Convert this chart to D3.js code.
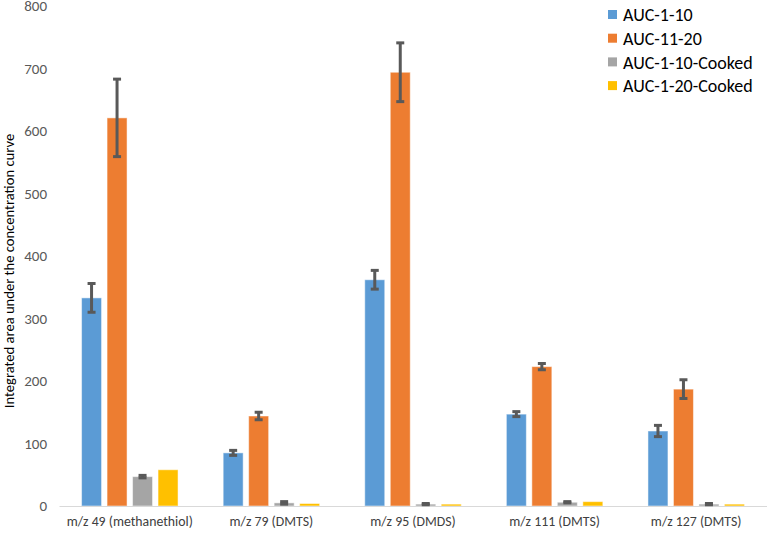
<!DOCTYPE html>
<html><head><meta charset="utf-8">
<script src="https://cdn.jsdelivr.net/npm/d3@7"></script>
<style>body{margin:0;background:#fff;} svg{display:block;font-family:Carlito,Calibri,Lato,"Liberation Sans",sans-serif;}</style>
</head><body>
<svg id="c" width="767" height="533"></svg>
<script>
const categories = ["m/z 49 (methanethiol)","m/z 79 (DMTS)","m/z 95 (DMDS)","m/z 111 (DMTS)","m/z 127 (DMTS)"];
const seriesNames = ["AUC-1-10","AUC-11-20","AUC-1-10-Cooked","AUC-1-20-Cooked"];
const auc1_10 = [333, 85, 362, 147, 120];
const auc11_20 = [621, 144, 694, 223, 187];
const auc1_10c = [47, 5, 3, 6, 3];
const auc1_20c = [58, 4, 3, 7, 3];
const err1_10 = [23, 4, 15, 4, 9];
const err11_20 = [62, 6, 47, 5, 15];
const err1_10c = [2, 2, 1, 1, 1];
const yTicks = [0,100,200,300,400,500,600,700,800];
const colors = ["#5B9BD5","#ED7D31","#A5A5A5","#FFC000"];

const seriesVals = [auc1_10, auc11_20, auc1_10c, auc1_20c];
const seriesErr = [err1_10, err11_20, err1_10c, null];

const svg = d3.select("#c");
const mLeft = 59, mRight = 767, mTop = 6, mBottom = 506;
const x = d3.scaleBand().domain(categories).range([mLeft, mRight]).paddingInner(0).paddingOuter(0);
const x1 = d3.scaleBand().domain(seriesNames).range([0, x.bandwidth()]).paddingInner(0.216).paddingOuter(0.885);
const y = d3.scaleLinear().domain([0, 800]).range([mBottom, mTop]);

const FF = "Carlito,Calibri,Lato,sans-serif";

// y tick labels
const yAxis = d3.axisLeft(y).tickValues(yTicks).tickSize(0).tickPadding(0);
const ga = svg.append("g").attr("transform", `translate(${mLeft-12},0)`).call(yAxis);
ga.select(".domain").remove();
ga.selectAll("text").attr("fill","#595959").style("font-size","15px").style("font-family",FF);

// bars
categories.forEach((cat, ci) => {
  seriesNames.forEach((s, si) => {
    const v = seriesVals[si][ci];
    svg.append("rect")
      .attr("x", x(cat) + x1(s))
      .attr("y", y(v))
      .attr("width", x1.bandwidth())
      .attr("height", y(0) - y(v))
      .attr("fill", colors[si])
      .attr("stroke", "#fff").attr("stroke-opacity",0.5).attr("stroke-width",1);
  });
});

// x axis line
const gx = svg.append("g").attr("transform", `translate(0,${mBottom})`).call(d3.axisBottom(x).tickSize(0).tickPadding(10));
gx.select(".domain").attr("stroke","#D9D9D9").attr("stroke-width",1);
gx.selectAll("text").attr("fill","#404040").style("font-size","13.8px").style("font-family",FF);

// error bars
categories.forEach((cat, ci) => {
  seriesNames.forEach((s, si) => {
    const e = seriesErr[si];
    if (!e) return;
    const v = seriesVals[si][ci];
    const cx = x(cat) + x1(s) + x1.bandwidth()/2;
    const g = svg.append("g").attr("stroke","#595959").attr("stroke-width",3);
    g.append("line").attr("x1",cx).attr("x2",cx).attr("y1",y(v+e[ci])).attr("y2",y(v-e[ci]));
    g.append("line").attr("x1",cx-4).attr("x2",cx+4).attr("y1",y(v+e[ci])).attr("y2",y(v+e[ci]));
    g.append("line").attr("x1",cx-4).attr("x2",cx+4).attr("y1",y(v-e[ci])).attr("y2",y(v-e[ci]));
  });
});

// y title
svg.append("text")
  .attr("transform", `translate(14,271) rotate(-90)`)
  .attr("text-anchor","middle")
  .attr("fill","#000")
  .style("font-size","14.6px")
  .text("Integrated area under the concentration curve");

// legend
const lg = svg.append("g").attr("transform","translate(608,0)");
seriesNames.forEach((s, i) => {
  const yy = 15 + i*23.7;
  lg.append("rect").attr("x",0).attr("y",yy-5).attr("width",9).attr("height",9).attr("fill",colors[i]);
  lg.append("text").attr("x",15).attr("y",yy).attr("dy","0.35em").attr("fill","#000").style("font-size","18px").text(s);
});
</script>
</body></html>
